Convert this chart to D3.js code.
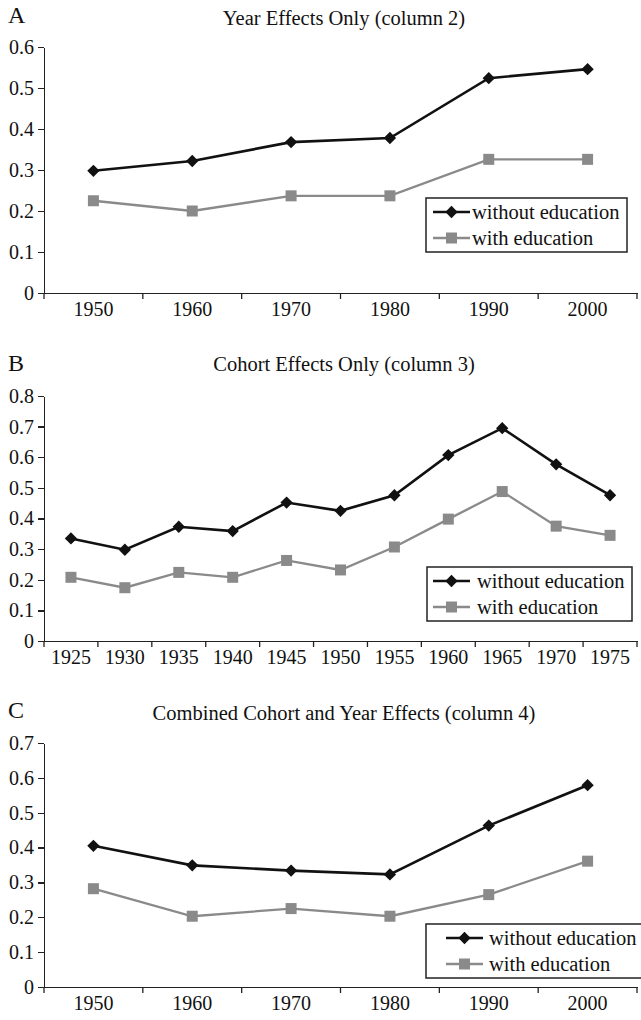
<!DOCTYPE html>
<html>
<head>
<meta charset="utf-8">
<script src="https://cdn.jsdelivr.net/npm/d3@7/dist/d3.min.js"></script>
<style type="text/css">
    body { margin: 0; background: white; }
    svg { display: block; background: white; }
    text { font-family: "Liberation Serif", "Times New Roman", serif; fill: #111; }
    .axis path, .axis line { stroke: #222; stroke-width: 1.3px; shape-rendering: crispEdges; }
    .axis text { font-size: 20px; }
    .title { font-size: 20.5px; text-anchor: middle; }
    .letter { font-size: 24px; }
    .legend text { font-size: 20.5px; }
</style>
</head>
<body>
<div id="chart"></div>
<script type="text/javascript">
    // panel A - year effects
    var yearsA = ["1950", "1960", "1970", "1980", "1990", "2000"];
    var withoutA = [0.298, 0.322, 0.368, 0.378, 0.524, 0.546];
    var withA = [0.225, 0.200, 0.237, 0.237, 0.326, 0.326];
    var ticksA = [0, 0.1, 0.2, 0.3, 0.4, 0.5, 0.6];

    // panel B - cohort effects
    var cohortsB = ["1925", "1930", "1935", "1940", "1945", "1950", "1955", "1960", "1965", "1970", "1975"];
    var withoutB = [0.335, 0.298, 0.373, 0.359, 0.452, 0.425, 0.476, 0.607, 0.695, 0.577, 0.476];
    var withB = [0.208, 0.174, 0.224, 0.208, 0.263, 0.232, 0.307, 0.398, 0.488, 0.375, 0.345];
    var ticksB = [0, 0.1, 0.2, 0.3, 0.4, 0.5, 0.6, 0.7, 0.8];

    // panel C - combined
    var yearsC = ["1950", "1960", "1970", "1980", "1990", "2000"];
    var withoutC = [0.405, 0.349, 0.334, 0.323, 0.463, 0.579];
    var withC = [0.282, 0.203, 0.225, 0.203, 0.265, 0.361];
    var ticksC = [0, 0.1, 0.2, 0.3, 0.4, 0.5, 0.6, 0.7];

    var seriesNames = ["without education", "with education"];

    var W = 641, H = 1020;
    var svg = d3.select("#chart").append("svg")
        .attr("width", W)
        .attr("height", H);

    var panels = [
        { letter: "A", title: "Year Effects Only (column 2)", cats: yearsA, s1: withoutA, s2: withA, ticks: ticksA,
          top: 47, bottom: 293, letterY: 23, titleY: 25, legend: { x: 426, y: 198, w: 201, h: 54, lx: 433, tx: 472 } },
        { letter: "B", title: "Cohort Effects Only (column 3)", cats: cohortsB, s1: withoutB, s2: withB, ticks: ticksB,
          top: 396, bottom: 641, letterY: 371, titleY: 371, legend: { x: 427, y: 567, w: 205, h: 54, lx: 433, tx: 477 } },
        { letter: "C", title: "Combined Cohort and Year Effects (column 4)", cats: yearsC, s1: withoutC, s2: withC, ticks: ticksC,
          top: 743, bottom: 987, letterY: 718, titleY: 720, legend: { x: 426, y: 924, w: 220, h: 54, lx: 446, tx: 489 } }
    ];

    var left = 44, right = 637;

    // diamond marker = square turned 45 degrees
    var diamond = d3.symbol().type(d3.symbolSquare).size(76);

    panels.forEach(function (p) {
        var g = svg.append("g");

        var x = d3.scaleBand()
            .domain(p.cats)
            .range([left, right])
            .padding(0);

        var y = d3.scaleLinear()
            .domain([0, d3.max(p.ticks)])
            .range([p.bottom, p.top]);

        // letter + title
        g.append("text").attr("class", "letter")
            .attr("x", 8).attr("y", p.letterY).text(p.letter);
        g.append("text").attr("class", "title")
            .attr("x", 344).attr("y", p.titleY).text(p.title);

        // y axis
        var yAxis = d3.axisLeft(y)
            .tickValues(p.ticks)
            .tickFormat(d3.format(""))
            .tickSize(6)
            .tickSizeOuter(0)
            .tickPadding(4);
        g.append("g").attr("class", "axis")
            .attr("transform", "translate(" + left + ",0)")
            .call(yAxis);

        // x axis, labels at band centres
        var xAxis = d3.axisBottom(x)
            .tickSize(0)
            .tickSizeOuter(0)
            .tickPadding(9);
        var xg = g.append("g").attr("class", "axis")
            .attr("transform", "translate(0," + p.bottom + ")")
            .call(xAxis);
        xg.selectAll("text").attr("dy", "0.71em");

        // boundary ticks between categories
        var bounds = p.cats.map(function (d) { return x(d); }).concat([x.range()[1]]);
        g.selectAll(".btick")
            .data(bounds)
            .enter().append("line")
            .attr("class", "btick")
            .attr("x1", function (d) { return d; })
            .attr("x2", function (d) { return d; })
            .attr("y1", p.bottom)
            .attr("y2", p.bottom + 6)
            .attr("stroke", "#222")
            .attr("stroke-width", 1.3);

        var cx = function (d, i) { return x(p.cats[i]) + x.bandwidth() / 2; };
        var line = d3.line()
            .x(cx)
            .y(function (d) { return y(d); });

        // with education (grey)
        g.append("path").datum(p.s2)
            .attr("fill", "none")
            .attr("stroke", "#8a8a8a")
            .attr("stroke-width", 2.3)
            .attr("d", line);
        g.selectAll(".sq")
            .data(p.s2)
            .enter().append("rect")
            .attr("class", "sq")
            .attr("x", function (d, i) { return cx(d, i) - 5.5; })
            .attr("y", function (d) { return y(d) - 5.5; })
            .attr("width", 11)
            .attr("height", 11)
            .attr("fill", "#8a8a8a");

        // without education (black)
        g.append("path").datum(p.s1)
            .attr("fill", "none")
            .attr("stroke", "#111")
            .attr("stroke-width", 2.6)
            .attr("d", line);
        g.selectAll(".dm")
            .data(p.s1)
            .enter().append("path")
            .attr("class", "dm")
            .attr("transform", function (d, i) { return "translate(" + cx(d, i) + "," + y(d) + ") rotate(45)"; })
            .attr("d", diamond)
            .attr("fill", "#111");

        // legend
        var L = p.legend;
        var lg = g.append("g").attr("class", "legend");
        lg.append("rect")
            .attr("x", L.x).attr("y", L.y)
            .attr("width", L.w).attr("height", L.h)
            .attr("fill", "white")
            .attr("stroke", "#222")
            .attr("stroke-width", 1.5);

        var rows = [
            { name: seriesNames[0], color: "#111", w: 2.6, kind: "diamond" },
            { name: seriesNames[1], color: "#8a8a8a", w: 2.3, kind: "square" }
        ];
        rows.forEach(function (r, i) {
            var ry = L.y + 14 + i * 26;
            lg.append("line")
                .attr("x1", L.lx).attr("x2", L.lx + 37)
                .attr("y1", ry).attr("y2", ry)
                .attr("stroke", r.color).attr("stroke-width", r.w);
            if (r.kind === "diamond") {
                lg.append("path")
                    .attr("transform", "translate(" + (L.lx + 18.5) + "," + ry + ") rotate(45)")
                    .attr("d", diamond).attr("fill", r.color);
            } else {
                lg.append("rect")
                    .attr("x", L.lx + 13).attr("y", ry - 5.5)
                    .attr("width", 11).attr("height", 11)
                    .attr("fill", r.color);
            }
            lg.append("text")
                .attr("x", L.tx).attr("y", ry)
                .attr("dy", "0.33em")
                .text(r.name);
        });
    });
</script>
</body>
</html>
